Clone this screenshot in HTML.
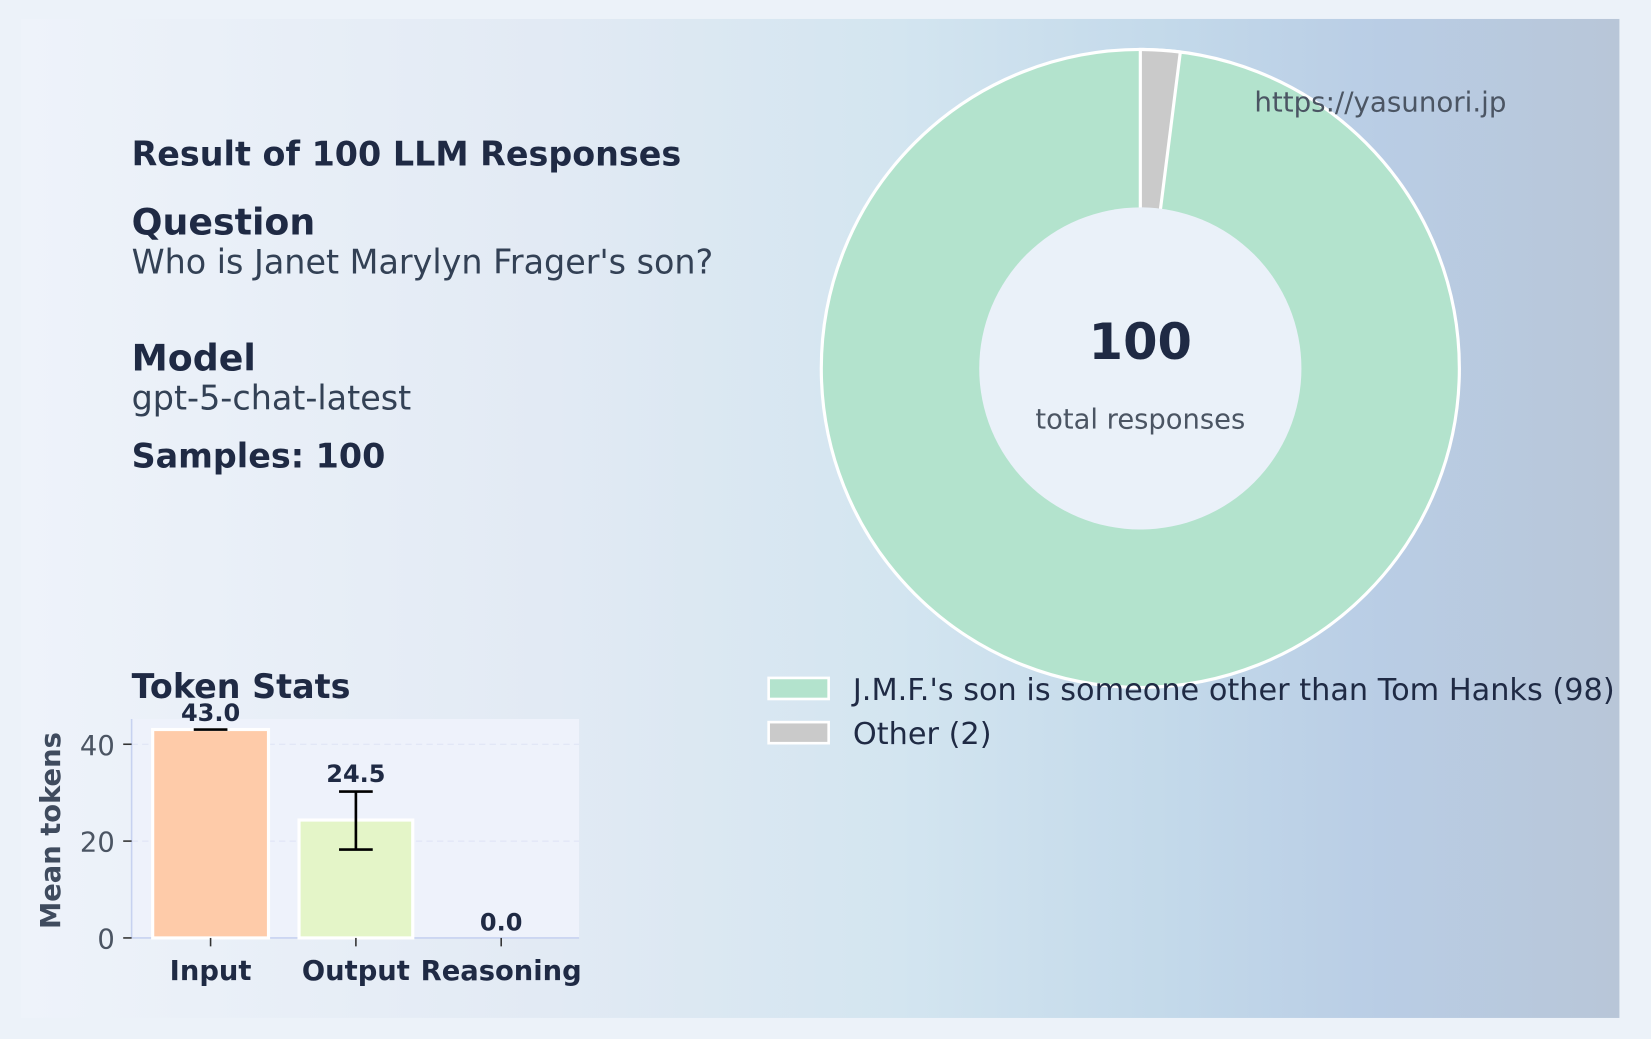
<!DOCTYPE html>
<html><head><meta charset="utf-8"><style>
html,body{margin:0;padding:0;background:#ecf2f9;}
svg{display:block;font-family:"DejaVu Sans","Liberation Sans",sans-serif;}
</style></head><body>
<svg width="1651" height="1039" viewBox="0 0 1568 987" preserveAspectRatio="none" xmlns="http://www.w3.org/2000/svg">
<defs>
<linearGradient id="bg" x1="0" y1="0" x2="1" y2="0">
<stop offset="0" stop-color="#eef3fa"/>
<stop offset="0.33" stop-color="#e2eaf4"/>
<stop offset="0.55" stop-color="#d3e5f0"/>
<stop offset="0.72" stop-color="#c3d9ea"/>
<stop offset="0.85" stop-color="#b9cde5"/>
<stop offset="1" stop-color="#b8c6d8"/>
</linearGradient>
</defs>
<rect width="1568" height="987" fill="#ecf2f9"/>
<rect x="20" y="18" width="1518" height="949" fill="url(#bg)"/>

<text x="125" y="157" font-size="31.7" font-weight="bold" fill="#1f2a44">Result of 100 LLM Responses</text>
<text x="125" y="223" font-size="34.5" font-weight="bold" fill="#1f2a44">Question</text>
<text x="125" y="260" font-size="31.7" fill="#334155">Who is Janet Marylyn Frager's son?</text>
<text x="125" y="352" font-size="34.5" font-weight="bold" fill="#1f2a44">Model</text>
<text x="125" y="389" font-size="31.7" fill="#334155">gpt-5-chat-latest</text>
<text x="125" y="444" font-size="31.7" font-weight="bold" fill="#1f2a44">Samples: 100</text>

<circle cx="1083" cy="350" r="303" fill="#b3e3cd" stroke="#fff" stroke-width="3"/>
<path d="M1083,350 L1083,47 A303,303 0 0 1 1121.0,49.4 Z" fill="#cacaca" stroke="#fff" stroke-width="3"/>
<circle cx="1083" cy="350" r="153" fill="#eaf1f9"/>
<text x="1083" y="341" font-size="47" font-weight="bold" fill="#1f2a44" text-anchor="middle">100</text>
<text x="1083" y="407" font-size="26" fill="#4b5563" text-anchor="middle">total responses</text>
<text x="1311" y="106" font-size="26.3" fill="#4b5563" text-anchor="middle">https://yasunori.jp</text>

<rect x="730" y="644" width="57" height="20" fill="#b3e3cd" stroke="#fff" stroke-width="2.5"/>
<text x="810" y="665" font-size="28.8" fill="#1f2a44">J.M.F.'s son is someone other than Tom Hanks (98)</text>
<rect x="730" y="686" width="57" height="20" fill="#cacaca" stroke="#fff" stroke-width="2.5"/>
<text x="810" y="707" font-size="28.8" fill="#1f2a44">Other (2)</text>

<text x="125" y="663" font-size="31.7" font-weight="bold" fill="#1f2a44">Token Stats</text>
<rect x="125" y="683" width="425" height="208" fill="#eef2fb"/>
<line x1="125" y1="707" x2="550" y2="707" stroke="#dde3f5" stroke-dasharray="6,4"/>
<line x1="125" y1="799" x2="550" y2="799" stroke="#dde3f5" stroke-dasharray="6,4"/>
<line x1="125" y1="683" x2="125" y2="891" stroke="#c7d2f0" stroke-width="1.5"/>
<line x1="125" y1="891" x2="550" y2="891" stroke="#c7d2f0" stroke-width="1.5"/>
<rect x="145" y="693" width="110" height="198" fill="#fecba9" stroke="#fff" stroke-width="3"/>
<rect x="284" y="779" width="108" height="112" fill="#e4f5c8" stroke="#fff" stroke-width="3"/>
<line x1="184" y1="693" x2="216" y2="693" stroke="#000" stroke-width="2.5"/>
<line x1="338" y1="752" x2="338" y2="807" stroke="#000" stroke-width="2.5"/>
<line x1="322" y1="752" x2="354" y2="752" stroke="#000" stroke-width="2.5"/>
<line x1="322" y1="807" x2="354" y2="807" stroke="#000" stroke-width="2.5"/>
<text x="200" y="685" font-size="22.8" font-weight="bold" fill="#1f2a44" text-anchor="middle">43.0</text>
<text x="338" y="743" font-size="22.8" font-weight="bold" fill="#1f2a44" text-anchor="middle">24.5</text>
<text x="476" y="884" font-size="22.8" font-weight="bold" fill="#1f2a44" text-anchor="middle">0.0</text>
<g stroke="#333" stroke-width="1.5">
<line x1="117" y1="707" x2="125" y2="707"/><line x1="117" y1="799" x2="125" y2="799"/><line x1="117" y1="891" x2="125" y2="891"/>
<line x1="200" y1="891" x2="200" y2="899"/><line x1="338" y1="891" x2="338" y2="899"/><line x1="476" y1="891" x2="476" y2="899"/>
</g>
<text x="109" y="717" font-size="26" fill="#4b5563" text-anchor="end">40</text>
<text x="109" y="809" font-size="26" fill="#4b5563" text-anchor="end">20</text>
<text x="109" y="901" font-size="26" fill="#4b5563" text-anchor="end">0</text>
<text x="200" y="931" font-size="26" font-weight="bold" fill="#1f2a44" text-anchor="middle">Input</text>
<text x="338" y="931" font-size="26" font-weight="bold" fill="#1f2a44" text-anchor="middle">Output</text>
<text x="476" y="931" font-size="26" font-weight="bold" fill="#1f2a44" text-anchor="middle">Reasoning</text>
<text transform="translate(57,789) rotate(-90)" font-size="26" font-weight="bold" fill="#3f4b5e" text-anchor="middle">Mean tokens</text>
</svg>
</body></html>
